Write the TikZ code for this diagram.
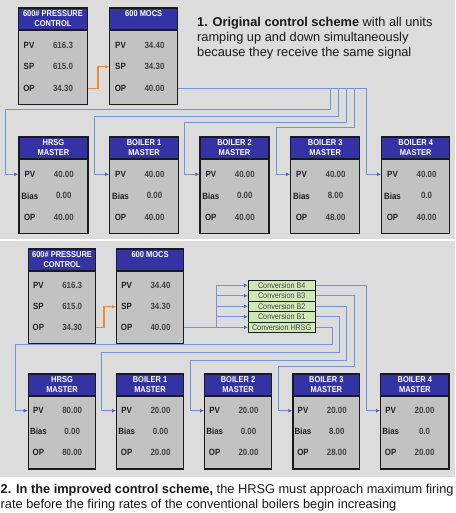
\documentclass[tikz,border=0pt]{standalone}
\usepackage{fontspec}
\setmainfont{Liberation Sans}
\newfontfamily\boxfont[FakeStretch=0.88]{Liberation Sans}
\usetikzlibrary{arrows.meta,calc}
\definecolor{bg}{HTML}{DCDCDC}
\definecolor{hdr}{HTML}{3333A6}
\definecolor{bodyc}{HTML}{C2C2C2}
\definecolor{edge}{HTML}{1A1A1A}
\definecolor{flowc}{HTML}{7494DA}
\definecolor{arrc}{HTML}{456AC6}
\definecolor{orangec}{HTML}{F0883A}
\definecolor{convc}{HTML}{CFE8B8}
\tikzset{
 boxbody/.style={draw=edge, line width=1.4pt, fill=bodyc, inner sep=0pt, anchor=north west},
 boxhead/.style={draw=edge, line width=1.4pt, fill=hdr, minimum height=22pt, inner sep=0pt, anchor=north west},
 headtxt/.style={text=white, font={\boxfont\fontsize{8.5}{10.5}\selectfont\bfseries}, align=center, anchor=north, inner sep=0pt},
 labtxt/.style={text=black!88, font={\boxfont\fontsize{9}{10}\selectfont\bfseries}, inner sep=0pt},
 valtxt/.style={text=black!75, font={\boxfont\fontsize{9}{10}\selectfont\bfseries}, inner sep=0pt},
 conv/.style={draw=edge, line width=1pt, fill=convc, minimum width=66.7pt, minimum height=10.5pt, inner sep=0pt, text=black!72, font={\boxfont\fontsize{8.2}{9}\selectfont}},
 flow/.style={draw=flowc, line width=1pt, -{Latex[length=4pt,width=4pt,color=arrc]}},
 oflow/.style={draw=orangec, line width=1.2pt, -{Latex[length=4pt,width=4pt]}},
 capt/.style={font={\fontsize{12.8}{15}\selectfont}, anchor=base west, inner sep=0pt, text=black!90},
}
\newcommand\ctlbox[5]{%
  \node[boxbody, minimum width=#4pt, minimum height=\myBh pt] (#1) at (#2,#3) {};
  \node[boxhead, minimum width=#4pt] (#1h) at (#2,#3) {};
  \node[headtxt] (#1t) at ($(#1h.north)+(0,2.6)$) {#5};
}
\newcommand\ctlrows[7]{%
  \node[labtxt] (#1pv) at ($(#1.north west)+(\myLx,\myRa)$) {#2};
  \node[valtxt] (#1pvv) at ($(#1.north west)+(\myVx,\myRa)$) {#3};
  \node[labtxt] (#1rb) at ($(#1.north west)+(\myLx,\myRb)$) {#4};
  \node[valtxt] (#1rbv) at ($(#1.north west)+(\myVx,\myRb)$) {#5};
  \node[labtxt] (#1op) at ($(#1.north west)+(\myLx,\myRc)$) {#6};
  \node[valtxt] (#1opv) at ($(#1.north west)+(\myVx,\myRc)$) {#7};
}
\begin{document}
\begin{tikzpicture}[x=1pt,y=-1pt]
\useasboundingbox (0,0) rectangle (455,513);
\fill[white] (0,0) rectangle (455,513);
\fill[bg] (0,0) rectangle (455,238.5);
\fill[bg] (0,241) rectangle (455,477);

% ---------- panel 1 ----------
\def\myBh{96.5}\def\myRa{38}\def\myRb{59.5}\def\myRc{81.5}\def\myLx{11.5}\def\myVx{45.5}
\ctlbox{pctA}{17.5}{7.3}{69.5}{600\# PRESSURE\\CONTROL}
\ctlrows{pctA}{PV}{616.3}{SP}{615.0}{OP}{34.30}
\ctlbox{mocsA}{109}{7.3}{68}{600 MOCS}
\ctlrows{mocsA}{PV}{34.40}{SP}{34.30}{OP}{40.00}

\ctlbox{hrsgA}{18.3}{136.3}{69}{HRSG\\MASTER}
\ctlrows{hrsgA}{PV}{40.00}{Bias}{0.00}{OP}{40.00}
\ctlbox{bA}{109}{136.3}{68.7}{BOILER 1\\MASTER}
\ctlrows{bA}{PV}{40.00}{Bias}{0.00}{OP}{40.00}
\ctlbox{bB}{199.3}{136.3}{69}{BOILER 2\\MASTER}
\ctlrows{bB}{PV}{40.00}{Bias}{0.00}{OP}{40.00}
\ctlbox{bC}{290}{136.3}{69}{BOILER 3\\MASTER}
\ctlrows{bC}{PV}{40.00}{Bias}{8.00}{OP}{48.00}
\ctlbox{bD}{381}{136.3}{68}{BOILER 4\\MASTER}
\ctlrows{bD}{PV}{40.00}{Bias}{0.0}{OP}{40.00}

\draw[oflow] (pctA.east |- pctAop) -- ++(9.5,0) |- (mocsA.west |- mocsArb);

\coordinate (busA) at (mocsA.east |- mocsAop);
\draw[flow] (busA) -| ($(bD.west |- bDpv)+(-14.3,0)$) -- (bD.west |- bDpv);
\draw[flow] (busA) -| (354.8,128) -| ($(bC.west |- bCpv)+(-14,0)$) -- (bC.west |- bCpv);
\draw[flow] (busA) -| (346.7,122.7) -| ($(bB.west |- bBpv)+(-15,0)$) -- (bB.west |- bBpv);
\draw[flow] (busA) -| (338.3,116.8) -| ($(bA.west |- bApv)+(-14.7,0)$) -- (bA.west |- bApv);
\draw[flow] (busA) -| (330.5,109.5) -| ($(hrsgA.west |- hrsgApv)+(-12.6,0)$) -- (hrsgA.west |- hrsgApv);

\node[capt] (t1a) at (197,27) {\textbf{1. Original control scheme} with all units};
\node[capt] (t1b) at (197,42) {ramping up and down simultaneously};
\node[capt] (t1c) at (197,57) {because they receive the same signal};

% ---------- panel 2 ----------
\def\myBh{95}\def\myRa{37.4}\def\myRb{58.4}\def\myRc{79}\def\myLx{10.7}\def\myVx{44.5}
\ctlbox{pctB}{27.7}{248.3}{67.3}{600\# PRESSURE\\CONTROL}
\ctlrows{pctB}{PV}{616.3}{SP}{615.0}{OP}{34.30}
\ctlbox{mocsB}{116}{248.3}{66.7}{600 MOCS}
\ctlrows{mocsB}{PV}{34.40}{SP}{34.30}{OP}{40.00}

\ctlbox{hrsgB}{27.7}{373.3}{67.3}{HRSG\\MASTER}
\ctlrows{hrsgB}{PV}{80.00}{Bias}{0.00}{OP}{80.00}
\ctlbox{cA}{116}{373.3}{66.7}{BOILER 1\\MASTER}
\ctlrows{cA}{PV}{20.00}{Bias}{0.00}{OP}{20.00}
\ctlbox{cB}{204}{373.3}{66.7}{BOILER 2\\MASTER}
\ctlrows{cB}{PV}{20.00}{Bias}{0.00}{OP}{20.00}
\ctlbox{cC}{292.3}{373.3}{66.7}{BOILER 3\\MASTER}
\ctlrows{cC}{PV}{20.00}{Bias}{8.00}{OP}{28.00}
\ctlbox{cD}{380}{373.3}{68.3}{BOILER 4\\MASTER}
\ctlrows{cD}{PV}{20.00}{Bias}{0.0}{OP}{20.00}

\node[conv] (cb4) at (281.7,285.3) {Conversion B4};
\node[conv] (cb3) at (281.7,295.8) {Conversion B3};
\node[conv] (cb2) at (281.7,306.3) {Conversion B2};
\node[conv] (cb1) at (281.7,316.8) {Conversion B1};
\node[conv] (chrsg) at (281.7,327.3) {Conversion HRSG};

\draw[oflow] (pctB.east |- pctBop) -- ++(7.5,0) |- (mocsB.west |- mocsBrb);

\coordinate (busB) at ($(chrsg.west)+(-31.6,0)$);
\draw[flow] (mocsB.east |- mocsBop) -- (chrsg.west);
\draw[flow] (busB) |- (cb1.west);
\draw[flow] (busB) |- (cb2.west);
\draw[flow] (busB) |- (cb3.west);
\draw[flow] (busB) |- (cb4.west);

\draw[flow] (cb4.east) -| ($(cD.west |- cDpv)+(-13.3,0)$) -- (cD.west |- cDpv);
\draw[flow] (cb3.east) -| (354.3,366) -| ($(cC.west |- cCpv)+(-14,0)$) -- (cC.west |- cCpv);
\draw[flow] (cb2.east) -| (346.7,360) -| ($(cB.west |- cBpv)+(-14,0)$) -- (cB.west |- cBpv);
\draw[flow] (cb1.east) -| (339.3,352.3) -| ($(cA.west |- cApv)+(-14.3,0)$) -- (cA.west |- cApv);
\draw[flow] (chrsg.east) -| (332.3,344) -| ($(hrsgB.west |- hrsgBpv)+(-12,0)$) -- (hrsgB.west |- hrsgBpv);

\node[capt] (t2a) at (0.5,493) {\textbf{2. In the improved control scheme,} the HRSG must approach maximum firing};
\node[capt] (t2b) at (0.5,508) {rate before the firing rates of the conventional boilers begin increasing};
\end{tikzpicture}
\end{document}
